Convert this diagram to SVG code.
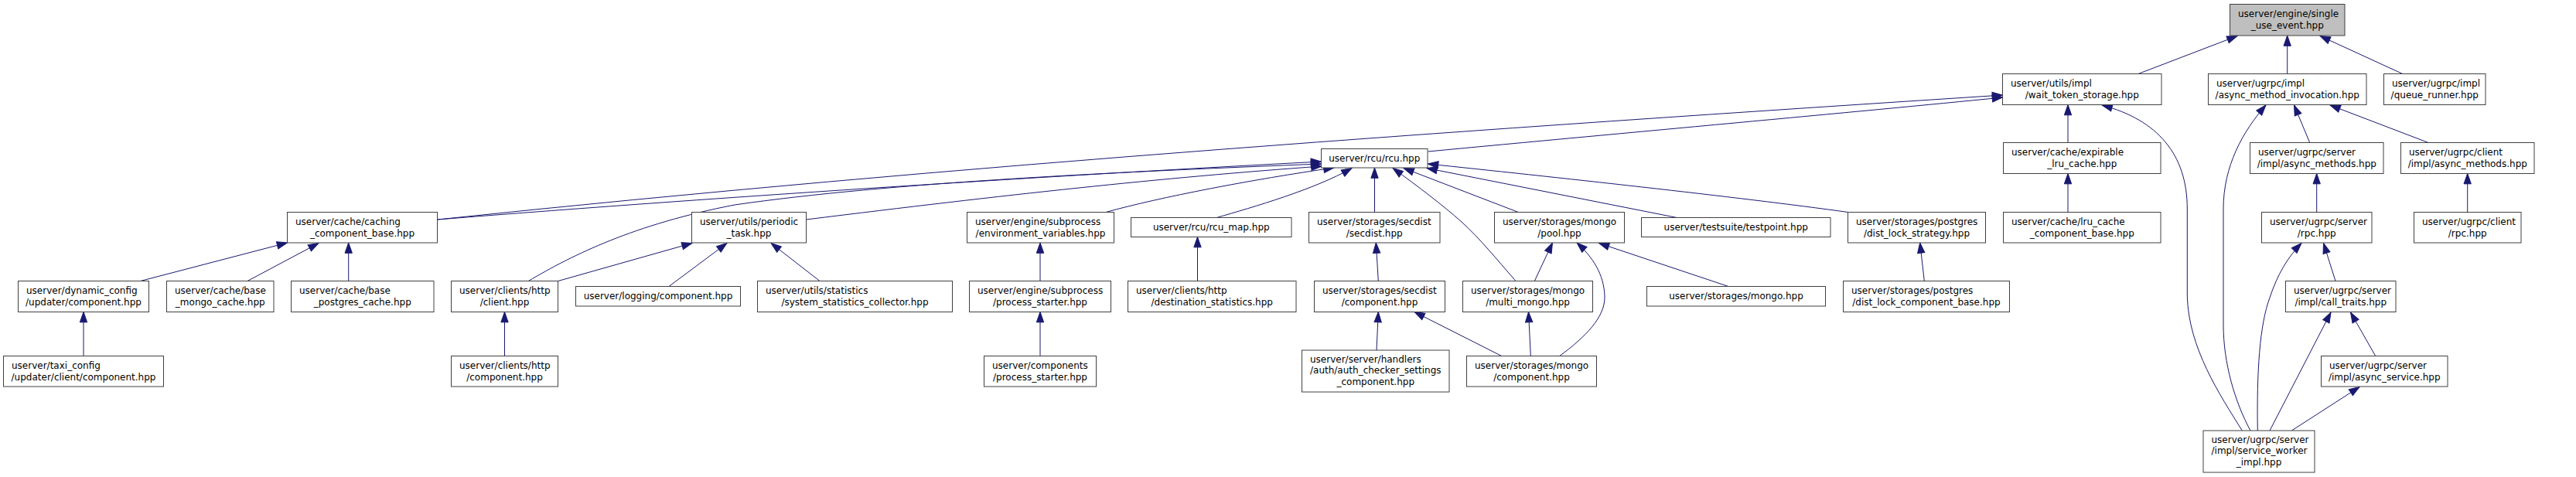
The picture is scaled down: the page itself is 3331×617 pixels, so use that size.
<svg xmlns="http://www.w3.org/2000/svg" width="3331" height="617" viewBox="0 0 3331 617">
<style>
.node rect{fill:#ffffff;stroke:#404040;stroke-width:1}
.node.root rect{fill:#bfbfbf}
.node text{font-family:"DejaVu Sans","Liberation Sans",sans-serif;font-size:12px;fill:#000000}
.node text.c{text-anchor:middle}
#edges path{fill:none;stroke:#191970;stroke-width:1;marker-end:url(#ah)}
</style>
<defs>
<marker id="ah" markerUnits="userSpaceOnUse" markerWidth="16" markerHeight="12" refX="13.3" refY="4.67" orient="auto" style="overflow:visible">
<path d="M0,0 L13.3,4.67 L0,9.33 Z" fill="#191970" stroke="#191970" stroke-width="1"/>
</marker>
</defs>
<rect x="0" y="0" width="3331" height="617" fill="#ffffff"/>
<g id="edges">
<path d="M2765,95.5 L2893,46.5"/>
<path d="M2957.7,95.5 L2957.7,46"/>
<path d="M3106.7,95.5 L3000,46.5"/>
<path d="M2986.7,184.5 L2966.5,136"/>
<path d="M3140,184.5 L3013,136"/>
<path d="M2910,557 C2890,520 2875,470 2875,420 L2875,270 C2875,215 2900,170 2930,136"/>
<path d="M2899.3,557 C2870,510 2830,450 2828.3,383 L2828.3,270 C2828.3,200 2790,155 2718,136"/>
<path d="M2919.3,557 C2918,480 2922,420 2935,385 C2945,355 2958,333 2976,314.5"/>
<path d="M3020,363.5 L3004.5,314.5"/>
<path d="M2935,557 L3014,404"/>
<path d="M3071.7,460.5 L3039.5,404"/>
<path d="M2963.3,557 L3051,500.5"/>
<path d="M2995.7,274.5 L2995.7,224.5"/>
<path d="M3190.7,274.5 L3190.7,224.5"/>
<path d="M2674,184.5 L2674,135.5"/>
<path d="M2674,274.5 L2674,224.5"/>
<path d="M1846.7,196 C2100,172 2400,145 2589.5,126"/>
<path d="M565.7,284 C1240,213 1914,167 2589.5,123"/>
<path d="M565.7,284 C950,253 1400,225 1708.5,209"/>
<path d="M683.3,363.5 C740,330 820,290 950,265 C1150,236 1450,222 1708.5,212"/>
<path d="M1042.7,284 C1300,252 1500,230 1709,215"/>
<path d="M1430,274.5 C1500,255 1620,232 1725,217"/>
<path d="M1573.3,281.5 C1620,268 1700,245 1748,217.5"/>
<path d="M1777.5,274.5 L1777.5,217"/>
<path d="M1960,363.5 C1935,335 1915,310 1890,287 C1865,265 1835,242 1801,217.5"/>
<path d="M1963.3,274.5 L1815,217.5"/>
<path d="M2168.3,281.5 L1845,217.5"/>
<path d="M2389.7,274.5 C2250,255 2000,228 1846.5,212"/>
<path d="M181.7,363.5 L371.5,314"/>
<path d="M320,363.5 L412,314.5"/>
<path d="M450.7,363.5 L450.7,314"/>
<path d="M108,460.5 L108,403.5"/>
<path d="M652.5,460.5 L652.5,403.5"/>
<path d="M721.7,363.5 L895,314.5"/>
<path d="M865,370.5 L940,314.5"/>
<path d="M1060,363.5 L997,314.5"/>
<path d="M1345,363.5 L1345,314"/>
<path d="M1345,460.5 L1345,403.5"/>
<path d="M1548.5,363.5 L1548.5,306.5"/>
<path d="M1782.3,363.5 L1779.3,314"/>
<path d="M1780,453 L1782.3,403.5"/>
<path d="M1941.7,460.5 L1829,403.5"/>
<path d="M1979.3,460.5 L1976.5,403.5"/>
<path d="M1984.3,363.5 L2007.5,314"/>
<path d="M2016.7,460.5 C2050,436 2076,410 2075,383 C2074,355 2060,333 2039,314"/>
<path d="M2235,370.5 L2067.5,314.5"/>
<path d="M2488.3,363.5 L2482.7,314"/>
</g>
<g id="node-single_use_event" class="node root"><rect x="2883.5" y="5.5" width="148.5" height="40.5"/><text x="2894" y="21.8">userver/engine/single</text><text class="c" x="2957.75" y="36.8">_use_event.hpp</text></g>
<g id="node-wait_token_storage" class="node"><rect x="2589.5" y="95.5" width="205.5" height="40"/><text x="2600" y="111.8">userver/utils/impl</text><text class="c" x="2692.25" y="126.8">/wait_token_storage.hpp</text></g>
<g id="node-async_method_invocation" class="node"><rect x="2855.5" y="95.5" width="204.5" height="40"/><text x="2866" y="111.8">userver/ugrpc/impl</text><text class="c" x="2957.75" y="126.8">/async_method_invocation.hpp</text></g>
<g id="node-queue_runner" class="node"><rect x="3082.5" y="95.5" width="131.5" height="40"/><text x="3093" y="111.8">userver/ugrpc/impl</text><text class="c" x="3148.25" y="126.8">/queue_runner.hpp</text></g>
<g id="node-rcu" class="node"><rect x="1708.5" y="192.5" width="137.5" height="24.5"/><text class="c" x="1777.25" y="208.8">userver/rcu/rcu.hpp</text></g>
<g id="node-expirable_lru_cache" class="node"><rect x="2590.5" y="184.5" width="203.5" height="40"/><text x="2601" y="200.8">userver/cache/expirable</text><text class="c" x="2692.25" y="215.8">_lru_cache.hpp</text></g>
<g id="node-server_async_methods" class="node"><rect x="2909.5" y="184.5" width="172.5" height="40"/><text x="2920" y="200.8">userver/ugrpc/server</text><text class="c" x="2995.75" y="215.8">/impl/async_methods.hpp</text></g>
<g id="node-client_async_methods" class="node"><rect x="3104.5" y="184.5" width="172.5" height="40"/><text x="3115" y="200.8">userver/ugrpc/client</text><text class="c" x="3190.75" y="215.8">/impl/async_methods.hpp</text></g>
<g id="node-caching_component_base" class="node"><rect x="371.5" y="274.5" width="194" height="39.5"/><text x="382" y="290.8">userver/cache/caching</text><text class="c" x="468.5" y="305.8">_component_base.hpp</text></g>
<g id="node-periodic_task" class="node"><rect x="894.5" y="274.5" width="148" height="39.5"/><text x="905" y="290.8">userver/utils/periodic</text><text class="c" x="968.5" y="305.8">_task.hpp</text></g>
<g id="node-environment_variables" class="node"><rect x="1250.5" y="274.5" width="190" height="39.5"/><text x="1261" y="290.8">userver/engine/subprocess</text><text class="c" x="1345.5" y="305.8">/environment_variables.hpp</text></g>
<g id="node-rcu_map" class="node"><rect x="1462.5" y="281.5" width="207.5" height="25"/><text class="c" x="1566.25" y="297.8">userver/rcu/rcu_map.hpp</text></g>
<g id="node-secdist" class="node"><rect x="1692.5" y="274.5" width="169.5" height="39.5"/><text x="1703" y="290.8">userver/storages/secdist</text><text class="c" x="1777.25" y="305.8">/secdist.hpp</text></g>
<g id="node-mongo_pool" class="node"><rect x="1932.5" y="274.5" width="168" height="39.5"/><text x="1943" y="290.8">userver/storages/mongo</text><text class="c" x="2016.5" y="305.8">/pool.hpp</text></g>
<g id="node-testpoint" class="node"><rect x="2122.5" y="281.5" width="244.5" height="25"/><text class="c" x="2244.75" y="297.8">userver/testsuite/testpoint.hpp</text></g>
<g id="node-dist_lock_strategy" class="node"><rect x="2389.5" y="274.5" width="178" height="39.5"/><text x="2400" y="290.8">userver/storages/postgres</text><text class="c" x="2478.5" y="305.8">/dist_lock_strategy.hpp</text></g>
<g id="node-lru_cache_component_base" class="node"><rect x="2590.5" y="274.5" width="203.5" height="39.5"/><text x="2601" y="290.8">userver/cache/lru_cache</text><text class="c" x="2692.25" y="305.8">_component_base.hpp</text></g>
<g id="node-server_rpc" class="node"><rect x="2924.5" y="274.5" width="142.5" height="39.5"/><text x="2935" y="290.8">userver/ugrpc/server</text><text class="c" x="2995.75" y="305.8">/rpc.hpp</text></g>
<g id="node-client_rpc" class="node"><rect x="3121.5" y="274.5" width="138.5" height="39.5"/><text x="3132" y="290.8">userver/ugrpc/client</text><text class="c" x="3190.75" y="305.8">/rpc.hpp</text></g>
<g id="node-dynamic_config_updater" class="node"><rect x="23.5" y="363.5" width="169" height="40"/><text x="34" y="379.8">userver/dynamic_config</text><text class="c" x="108" y="394.8">/updater/component.hpp</text></g>
<g id="node-base_mongo_cache" class="node"><rect x="215.5" y="363.5" width="138.5" height="40"/><text x="226" y="379.8">userver/cache/base</text><text class="c" x="284.75" y="394.8">_mongo_cache.hpp</text></g>
<g id="node-base_postgres_cache" class="node"><rect x="376.5" y="363.5" width="184.5" height="40"/><text x="387" y="379.8">userver/cache/base</text><text class="c" x="468.75" y="394.8">_postgres_cache.hpp</text></g>
<g id="node-http_client" class="node"><rect x="583.5" y="363.5" width="138" height="40"/><text x="594" y="379.8">userver/clients/http</text><text class="c" x="652.5" y="394.8">/client.hpp</text></g>
<g id="node-logging_component" class="node"><rect x="744.5" y="370.5" width="213" height="25.5"/><text class="c" x="851" y="386.8">userver/logging/component.hpp</text></g>
<g id="node-system_statistics_collector" class="node"><rect x="979.5" y="363.5" width="252" height="40"/><text x="990" y="379.8">userver/utils/statistics</text><text class="c" x="1105.5" y="394.8">/system_statistics_collector.hpp</text></g>
<g id="node-subprocess_process_starter" class="node"><rect x="1253.5" y="363.5" width="183" height="40"/><text x="1264" y="379.8">userver/engine/subprocess</text><text class="c" x="1345" y="394.8">/process_starter.hpp</text></g>
<g id="node-destination_statistics" class="node"><rect x="1458.5" y="363.5" width="217.5" height="40"/><text x="1469" y="379.8">userver/clients/http</text><text class="c" x="1567.25" y="394.8">/destination_statistics.hpp</text></g>
<g id="node-secdist_component" class="node"><rect x="1699.5" y="363.5" width="169" height="40"/><text x="1710" y="379.8">userver/storages/secdist</text><text class="c" x="1784" y="394.8">/component.hpp</text></g>
<g id="node-multi_mongo" class="node"><rect x="1891.5" y="363.5" width="168" height="40"/><text x="1902" y="379.8">userver/storages/mongo</text><text class="c" x="1975.5" y="394.8">/multi_mongo.hpp</text></g>
<g id="node-storages_mongo" class="node"><rect x="2129.5" y="370.5" width="231" height="25.5"/><text class="c" x="2245" y="386.8">userver/storages/mongo.hpp</text></g>
<g id="node-dist_lock_component_base" class="node"><rect x="2383.5" y="363.5" width="215" height="40"/><text x="2394" y="379.8">userver/storages/postgres</text><text class="c" x="2491" y="394.8">/dist_lock_component_base.hpp</text></g>
<g id="node-call_traits" class="node"><rect x="2955.5" y="363.5" width="142.5" height="40"/><text x="2966" y="379.8">userver/ugrpc/server</text><text class="c" x="3026.75" y="394.8">/impl/call_traits.hpp</text></g>
<g id="node-taxi_config_client" class="node"><rect x="4.5" y="460.5" width="207" height="39.5"/><text x="15" y="476.8">userver/taxi_config</text><text class="c" x="108" y="491.8">/updater/client/component.hpp</text></g>
<g id="node-http_component" class="node"><rect x="583.5" y="460.5" width="138" height="39.5"/><text x="594" y="476.8">userver/clients/http</text><text class="c" x="652.5" y="491.8">/component.hpp</text></g>
<g id="node-components_process_starter" class="node"><rect x="1272.5" y="460.5" width="145" height="39.5"/><text x="1283" y="476.8">userver/components</text><text class="c" x="1345" y="491.8">/process_starter.hpp</text></g>
<g id="node-auth_checker_settings" class="node"><rect x="1683.5" y="453" width="190.5" height="54"/><text x="1694" y="468.5">userver/server/handlers</text><text x="1694" y="483">/auth/auth_checker_settings</text><text class="c" x="1778.75" y="497.5">_component.hpp</text></g>
<g id="node-mongo_component" class="node"><rect x="1896.5" y="460.5" width="168" height="39.5"/><text x="1907" y="476.8">userver/storages/mongo</text><text class="c" x="1980.5" y="491.8">/component.hpp</text></g>
<g id="node-async_service" class="node"><rect x="3001.5" y="460.5" width="163.5" height="39.5"/><text x="3012" y="476.8">userver/ugrpc/server</text><text class="c" x="3083.25" y="491.8">/impl/async_service.hpp</text></g>
<g id="node-service_worker_impl" class="node"><rect x="2849" y="557" width="144" height="54"/><text x="2859.5" y="572.8">userver/ugrpc/server</text><text x="2859.5" y="587.4">/impl/service_worker</text><text class="c" x="2921" y="602">_impl.hpp</text></g>
</svg>
